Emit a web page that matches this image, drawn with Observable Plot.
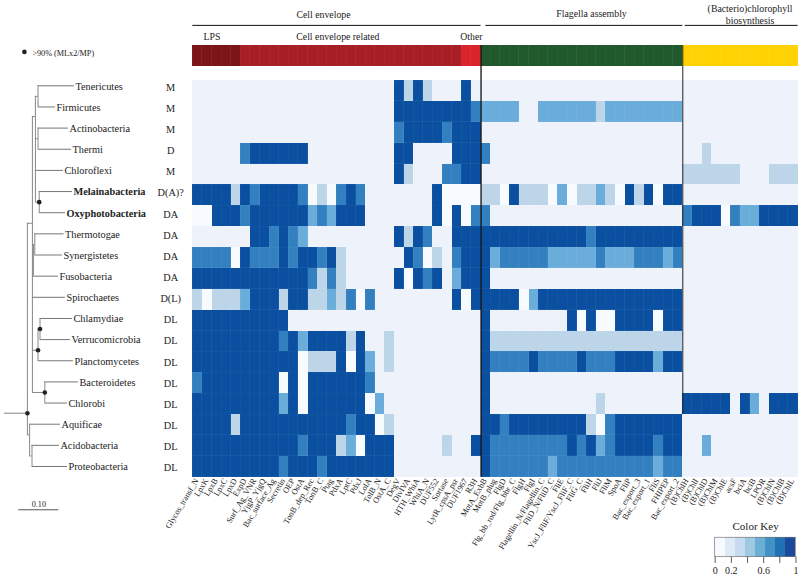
<!DOCTYPE html>
<html><head><meta charset="utf-8">
<style>html,body{margin:0;padding:0;background:#fff}svg{display:block}</style>
<script src="https://cdn.jsdelivr.net/npm/d3@7"></script>
<script src="https://cdn.jsdelivr.net/npm/@observablehq/plot@0.6"></script>
</head><body><div id="chart"></div>
<script>
const serif = "'Liberation Serif','Times New Roman',serif";
const phyla = ["Tenericutes","Firmicutes","Actinobacteria","Thermi","Chloroflexi","Melainabacteria","Oxyphotobacteria","Thermotogae","Synergistetes","Fusobacteria","Spirochaetes","Chlamydiae","Verrucomicrobia","Planctomycetes","Bacteroidetes","Chlorobi","Aquificae","Acidobacteria","Proteobacteria"];
const membrane = ["M","M","M","D","M","D(A)?","DA","DA","DA","DA","D(L)","DL","DL","DL","DL","DL","DL","DL","DL"];
const boldPhyla = ["Melainabacteria","Oxyphotobacteria"];
const envelopeCols = ["Glycos_transf_N","LpxK","LpxB","LpxC","LpxD","ExpD","Surf_Ag_VNR","YjgP_YjgQ","Bac_surface_Ag","Secretin","OEP","OstA","TonB_dep_Rec","TonB_C","Ptag","PdxA","LptC","PdxJ","LolA","TolB_N","OstA_C","DegV","DivIVA","HTH_WhiA","WhiA_N","DUF552","Sortase","LytR_cpsA_psr","DUF1967","R3H"];
const flagellaCols = ["MotA_ExbB","MotB_plug","FlgD","Flg_bb_rod/Flg_bbr_C","FlgH","FlgI","Flagellin_N/Flagellin_C","FliD_N/FliD_C","FliE","YscJ_FliF/YscJ_FliF_C","FliG_C","FliH","FliJ","FliM","SpoA","FliP","Bac_export_3","Bac_export_1","FliS","FHIPEP","Bac_export_2"];
const chlorophyllCols = ["(B)ChlH","(B)ChlI","(B)ChlD","(B)ChlM","(B)ChlE","acsF","bciA","bciB","LPOR","(B)ChlN","(B)ChlB","(B)ChlL"];
// one letter per cell: w absent (bright) . absent l low m mid h high d full
const envelopeRows = [
".....................dldl...d.",
".....................ddddddddh",
".....................hddddhddd",
".....hdddddd.........dd....ddd",
".....................dl...hhdd",
"ddddldhddddhwlwhdh.......dwwww",
"wwdddhddddddmhmddd.......dwdwh",
"......ddhdhm.........dldh..ddd",
"hhhhwdhhhdhddhdl......dhwl.hdd",
"ddddddddddddhlhl.....dwdhd.mdd",
"lwlllmdddlddllmlhwh........dwd",
"dddddddddd....................",
"dddddddddhdmddddld..l.........",
"dddddddddddwllldwdm.l.........",
"hddddddddwdwddddddh...........",
"dddddddddmdwddddddwm..........",
"ddddldddddddddddhddwl.........",
"dddddddddddhdddlmwddd.....l..d",
"dddddddddhdddhddddddd........."
];
const flagellaRows = [
".....................",
"mmmm..mmmmmmlmmmmmmmm",
".....................",
"h....................",
".....................",
"llwdlllwmwllmlwdldwdd",
"h....................",
"dddddddddddhddddddddd",
"dmhhhhhmmmmmhmmmhhhmh",
"d....................",
"ddddwmddddddddddddddd",
"d........dwdwwddddwdd",
"dllllllllllllllllllll",
"dhhhhdhhhhdhhhddddmdd",
"d....................",
"d...........l........",
"ddhddddddddlwhddddddd",
"dhhhhhhhhdhdmhddddhdd",
"dhhhhhhmhhhhhhhhhhmhh"
];
const chlorophyllRows = [
"............",
"............",
"............",
"..l.........",
"llllll...lll",
"............",
"hdddwhmmdddd",
"............",
"............",
"............",
"............",
"............",
"............",
"............",
"............",
"ddddd.dm.ddd",
"............",
"..m.........",
"............"
];
const levelKeys = ["w",".","l","m","h","d"];
const levelValues = [0,0.1,0.3,0.6,0.75,1];
const levelColors = ["#f7fafe","#eef2fa","#bdd5e9","#6aaddb","#3380c0","#0a4fa0"];
const groups = [
 {name:"LPS",from:0,to:5,color:"#7c1518"},
 {name:"Cell envelope related",from:5,to:28,color:"#a71e25"},
 {name:"Other",from:28,to:30,color:"#d9242c"},
 {name:"Flagella",from:30,to:51,color:"#20592b"},
 {name:"Chlorophyll",from:51,to:63,color:"#ffd303"}
];
const headers = [
 {text:"Cell envelope",c:13.6,r:-3.15,from:0,to:30},
 {text:"Flagella assembly",c:41.5,r:-3.2,from:30.5,to:51},
 {text:"(Bacterio)chlorophyll",c:58,r:-3.45,from:51.25,to:63},
 {text:"biosynthesis",c:58,r:-2.88,from:null,to:null},
 {text:"LPS",c:2,r:-2.1,from:null,to:null},
 {text:"Cell envelope related",c:15.1,r:-2.1,from:null,to:null},
 {text:"Other",c:29,r:-2.1,from:null,to:null}
];
const keyColors = ["#f7fbff","#deebf7","#c6dbef","#9ecae1","#6baed6","#4292c6","#2171b5","#1b4a9c"];
const keyTicks = [0,0.2,0.4,0.6,0.8,1];
const keyLabels = [0,0.2,0.6,1];
// tree: depth in substitutions per site, position in tip rows
const tipBranches = [[.084,.175],[.084,.1275],[.084,.16],[.084,.1675],[.0775,.1475],[.087,.17],[.087,.1525],[.076,.149],[.076,.145],[.0725,.135],[.07,.1525],[.089,.17],[.089,.165],[.084,.1725],[.101,.185],[.101,.1575],[.063,.14],[.069,.1375],[.069,.1575]];
const innerBranches = [[0,.0575,15.48],[.0575,.07,6.5],[.0575,.063,16.5],[.063,.069,17.5],[.07,.0775,1.45],[.0775,.084,.5],[.0775,.084,2.5],[.0775,.087,5.5],[.0725,.076,7.5],[.07,.084,12.5],[.084,.089,11.5],[.07,.101,14.5],[.07,.0725,9]];
const stems = [[.0575,6.5,16.5],[.063,16,17.5],[.069,17,18],[.07,1.45,14.5],[.0775,.5,5.5],[.084,0,1],[.084,2,3],[.087,5,6],[.0725,7.5,9],[.076,7,8],[.089,11,12],[.084,11.5,13],[.101,14,15]];
const supportNodes = [[.0575,15.48],[.087,5.5],[.089,11.5],[.084,12.5],[.101,14.5]];
const scaleBar = [.036,.136];

const treeX = d => d*41.67 - 19.61;
const treeY = t => t*1.013 + 0.254;
const keyX = v => 54.37 + v*8.41;
const keyTop = 2.9, keyBottom = 3.83; // row units below the matrix

const columns = [...envelopeCols,...flagellaCols,...chlorophyllCols];
const cells = [];
phyla.forEach((p,r)=>{
  const row = envelopeRows[r]+flagellaRows[r]+chlorophyllRows[r];
  for(let c=0;c<columns.length;c++){
    cells.push({phylum:p,column:columns[c],c,r,value:levelValues[levelKeys.indexOf(row[c])]});
  }
});
const barCols = groups.flatMap(g=>d3.range(g.from,g.to).map(c=>({c,color:g.color})));
const keyCells = keyColors.map((color,i)=>({i,color,n:keyColors.length}));
const txt = {fontFamily:serif, fill:"#222"};
const isBold = d => boldPhyla.includes(d);
const tipLabel = {x:d=>treeX(tipBranches[phyla.indexOf(d)][1]),y:d=>treeY(phyla.indexOf(d)),text:d=>d,textAnchor:"start",dx:1,dy:.5,fontSize:10.3,...txt};

const chart = Plot.plot({
  width:800,height:577,margin:0,
  style:{background:"#fff",fontFamily:serif,overflow:"visible"},
  x:{domain:[0,63],range:[192.3,797.6],axis:null},
  y:{domain:[0,19],range:[80,476.7],axis:null},
  color:{type:"ordinal",domain:levelValues,range:levelColors,legend:false},
  marks:[
    Plot.rect(cells,{x1:"c",x2:d=>d.c+1,y1:"r",y2:d=>d.r+1,fill:"value",stroke:"#fff",strokeOpacity:.06,strokeWidth:.5,shapeRendering:"crispEdges"}),
    Plot.rect(barCols,{x1:"c",x2:d=>d.c+1,y1:()=>-1.68,y2:()=>-0.67,fill:{value:"color",scale:null},stroke:"#fff",strokeOpacity:.06,strokeWidth:.5,shapeRendering:"crispEdges"}),
    Plot.ruleX([30],{y1:-1.68,y2:19,stroke:"#111",strokeWidth:1.3}),
    Plot.ruleX([51],{y1:-1.68,y2:16,stroke:"#222",strokeWidth:1}),
    Plot.ruleY(headers.filter(d=>d.from!==null),{x1:"from",x2:"to",y:()=>-2.64,stroke:"#111",strokeWidth:1}),
    Plot.text(headers,{x:"c",y:"r",text:"text",fontSize:9.8,...txt}),
    Plot.text(columns,{x:(d,i)=>i+.5,y:()=>19,text:d=>d,rotate:-59,textAnchor:"end",dx:-1,dy:2,fontSize:8.3,...txt}),
    // tree
    Plot.ruleY(tipBranches,{x1:d=>treeX(d[0]),x2:d=>treeX(d[1]),y:(d,i)=>treeY(i),stroke:"#666",strokeWidth:.9}),
    Plot.ruleY(innerBranches,{x1:d=>treeX(d[0]),x2:d=>treeX(d[1]),y:d=>treeY(d[2]),stroke:"#777",strokeWidth:.9}),
    Plot.ruleX(stems,{x:d=>treeX(d[0]),y1:d=>treeY(d[1]),y2:d=>treeY(d[2]),stroke:"#888",strokeWidth:1}),
    Plot.dot(supportNodes,{x:d=>treeX(d[0]),y:d=>treeY(d[1]),r:2.3,fill:"#222"}),
    Plot.text(phyla.filter(d=>!isBold(d)),tipLabel),
    Plot.text(boldPhyla,{...tipLabel,fontWeight:"bold"}),
    Plot.text(membrane,{x:()=>-2.3,y:(d,i)=>treeY(i),text:d=>d,dy:1.5,fontSize:10.3,...txt}),
    // tree legend + scale bar
    Plot.dot([">90% (MLx2/MP)"],{x:()=>treeX(.05),y:()=>-1.37,r:2.3,fill:"#222"}),
    Plot.text([">90% (MLx2/MP)"],{x:()=>treeX(.07),y:()=>-1.3,text:d=>d,textAnchor:"start",fontSize:8.2,...txt}),
    Plot.ruleY([0],{x1:()=>treeX(scaleBar[0]),x2:()=>treeX(scaleBar[1]),y:()=>20.56,stroke:"#555",strokeWidth:1}),
    Plot.text(["0.10"],{x:()=>treeX((scaleBar[0]+scaleBar[1])/2),y:()=>20.31,text:d=>d,fontSize:8.2,...txt}),
    // colour key
    Plot.text(["Color Key"],{x:()=>keyX(.5),y:()=>19+2.35,text:d=>d,fontSize:11,...txt}),
    Plot.rect(keyCells,{x1:d=>keyX(d.i/d.n),x2:d=>keyX((d.i+1)/d.n),y1:()=>19+keyTop,y2:()=>19+keyBottom,fill:{value:"color",scale:null},shapeRendering:"crispEdges"}),
    Plot.rect([0],{x1:()=>keyX(0),x2:()=>keyX(1),y1:()=>19+keyTop,y2:()=>19+keyBottom,fill:"none",stroke:"#777",strokeWidth:.7}),
    Plot.ruleX(keyTicks,{x:d=>keyX(d),y1:()=>19+keyBottom,y2:()=>19+keyBottom+.3,stroke:"#333",strokeWidth:.8}),
    Plot.text(keyLabels,{x:d=>keyX(d),y:()=>19+keyBottom+.66,text:d=>String(d),fontSize:10,...txt})
  ]
});
document.getElementById("chart").appendChild(chart);
</script></body></html>
